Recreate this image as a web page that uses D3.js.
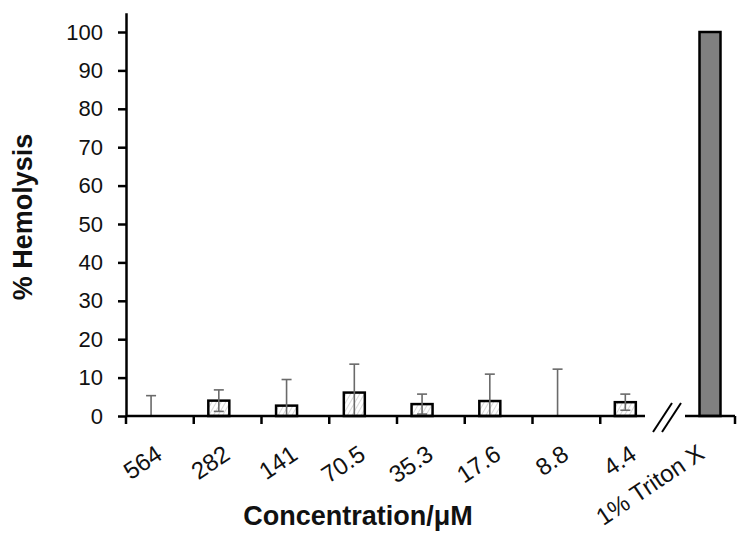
<!DOCTYPE html>
<html>
<head>
<meta charset="utf-8">
<script src="https://cdn.jsdelivr.net/npm/d3@7"></script>
<style>
  body { margin: 0; background: #fff; }
  text { font-family: Arial, "Liberation Sans", sans-serif; fill: #111; }
</style>
</head>
<body>
<svg id="chart" width="748" height="542"></svg>
<script>
// concentrations in µM, left to right
const concentrations = ["564", "282", "141", "70.5", "35.3", "17.6", "8.8", "4.4"];
// mean % hemolysis for each concentration
const hemolysis = [0, 4.0, 2.7, 6.1, 3.1, 3.9, 0, 3.6];
// standard deviation for each concentration
const errors = [5.3, 2.8, 6.8, 7.4, 2.6, 7.0, 12.2, 2.1];
// positive control
const controlLabel = ["1% Triton X"];
const controlValue = [100];
const yTicks = [0, 10, 20, 30, 40, 50, 60, 70, 80, 90, 100];

const svg = d3.select("#chart");

const y = d3.scaleLinear().domain([0, 105]).range([416, 12.8]);

const x = d3.scaleBand()
    .domain(concentrations)
    .range([126, 668]);

const xCtrl = d3.scaleBand()
    .domain(controlLabel)
    .range([685, 735]);

const barW = 21;
// bars sit left of the band center (empty second series in the original)
const barCenter = d => x(d) + x.bandwidth() * 0.37;

// hatch for the sample bars
const defs = svg.append("defs");
defs.append("pattern")
    .attr("id", "hatch")
    .attr("patternUnits", "userSpaceOnUse")
    .attr("width", 4).attr("height", 4)
    .attr("patternTransform", "rotate(30)")
  .append("line")
    .attr("x1", 0).attr("y1", 0).attr("x2", 0).attr("y2", 4)
    .attr("stroke", "#bdbdbd").attr("stroke-width", 1.2);

// y axis
const yAxis = d3.axisLeft(y)
    .tickValues(yTicks)
    .tickSize(8)
    .tickSizeOuter(0)
    .tickPadding(15);

const gy = svg.append("g")
    .attr("transform", "translate(126,0)")
    .call(yAxis);
gy.select(".domain").attr("stroke", "#000").attr("stroke-width", 2.5);
gy.selectAll(".tick line").attr("stroke", "#000").attr("stroke-width", 2.5);
gy.selectAll(".tick text")
    .style("font-size", "22px")
    .style("font-family", "Arial, 'Liberation Sans', sans-serif")
    .attr("fill", "#111");

// bars
const rows = concentrations.map((c, i) => ({ c, v: hemolysis[i], e: errors[i] }));

svg.append("g").selectAll("rect")
    .data(rows.filter(d => d.v > 0))
    .join("rect")
    .attr("x", d => barCenter(d.c) - barW / 2)
    .attr("y", d => y(d.v))
    .attr("width", barW)
    .attr("height", d => y(0) - y(d.v))
    .attr("fill", "url(#hatch)")
    .attr("stroke", "#000")
    .attr("stroke-width", 2.5);

// control bar
svg.append("g").selectAll("rect")
    .data(controlLabel.map((c, i) => ({ c, v: controlValue[i] })))
    .join("rect")
    .attr("x", d => xCtrl(d.c) + xCtrl.bandwidth() / 2 - barW / 2)
    .attr("y", d => y(d.v))
    .attr("width", barW)
    .attr("height", d => y(0) - y(d.v))
    .attr("fill", "#808080")
    .attr("stroke", "#000")
    .attr("stroke-width", 2.5);

// error bars
const eb = svg.append("g")
    .attr("stroke", "#6a6a6a")
    .attr("stroke-width", 1.6)
    .selectAll("g")
    .data(rows)
    .join("g");

eb.append("line")
    .attr("x1", d => barCenter(d.c)).attr("x2", d => barCenter(d.c))
    .attr("y1", d => y(Math.max(0, d.v - d.e)))
    .attr("y2", d => y(d.v + d.e));
eb.append("line")
    .attr("x1", d => barCenter(d.c) - 5).attr("x2", d => barCenter(d.c) + 5)
    .attr("y1", d => y(d.v + d.e)).attr("y2", d => y(d.v + d.e));
eb.filter(d => d.v - d.e > 0).append("line")
    .attr("x1", d => barCenter(d.c) - 5).attr("x2", d => barCenter(d.c) + 5)
    .attr("y1", d => y(d.v - d.e)).attr("y2", d => y(d.v - d.e));

// x axis, first segment
const gx = svg.append("g").attr("stroke", "#000").attr("stroke-width", 2.5);
gx.append("line")
    .attr("x1", 126).attr("x2", 645)
    .attr("y1", y(0)).attr("y2", y(0));
gx.selectAll(".tk")
    .data(concentrations)
    .join("line")
    .attr("class", "tk")
    .attr("x1", d => x(d)).attr("x2", d => x(d))
    .attr("y1", y(0)).attr("y2", y(0) + 8);

// x axis, control segment
gx.append("line")
    .attr("x1", 685).attr("x2", 735)
    .attr("y1", y(0)).attr("y2", y(0));
gx.append("line")
    .attr("x1", 735).attr("x2", 735)
    .attr("y1", y(0)).attr("y2", y(0) + 8);

// axis break
const brk = svg.append("g").attr("stroke", "#000").attr("stroke-width", 2);
brk.selectAll("line")
    .data([0, 9])
    .join("line")
    .attr("x1", d => 653 + d).attr("y1", 432)
    .attr("x2", d => 672 + d).attr("y2", 403);

// x tick labels
svg.append("g").selectAll("text")
    .data(concentrations)
    .join("text")
    .attr("transform", d => `translate(${x(d) + x.bandwidth() / 2 + 4},458) rotate(-34)`)
    .attr("text-anchor", "end")
    .style("font-size", "24px")
    .text(d => d);

svg.append("g").selectAll("text")
    .data(controlLabel)
    .join("text")
    .attr("transform", d => `translate(${xCtrl(d) + xCtrl.bandwidth() / 2 - 4},457) rotate(-34)`)
    .attr("text-anchor", "end")
    .style("font-size", "24px")
    .text(d => d);

// axis titles
svg.append("text")
    .attr("x", 358).attr("y", 525)
    .attr("text-anchor", "middle")
    .style("font-size", "27px")
    .style("font-weight", "bold")
    .text("Concentration/μM");

svg.append("text")
    .attr("transform", "translate(32,217) rotate(-90)")
    .attr("text-anchor", "middle")
    .style("font-size", "27px")
    .style("font-weight", "bold")
    .text("% Hemolysis");
</script>
</body>
</html>
